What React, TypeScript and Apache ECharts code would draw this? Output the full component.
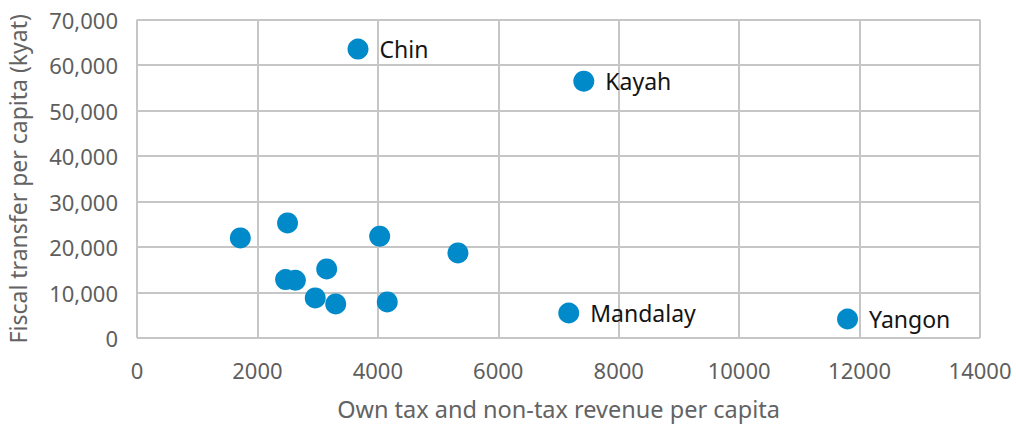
import React, { useEffect, useRef } from "react";
import * as echarts from "echarts";

const regionNames = ["Chin", "Kayah", "Mandalay", "Yangon", "", "", "", "", "", "", "", "", "", ""];
const ownRevenue = [3670, 7420, 7170, 11800, 1716, 2500, 4030, 5330, 3150, 2468, 2630, 2960, 3300, 4156];
const fiscalTransfer = [63500, 56450, 5500, 4180, 22000, 25300, 22370, 18700, 15180, 12850, 12690, 8800, 7480, 7920];
const xTicks = { min: 0, max: 14000, interval: 2000 };
const yTicks = { min: 0, max: 70000, interval: 10000 };

export default function App() {
  const ref = useRef<HTMLDivElement>(null);
  useEffect(() => {
    const chart = echarts.init(ref.current!, null, { renderer: "svg" });
    const font = "'Noto Sans', sans-serif";
    chart.setOption({
      animation: false,
      textStyle: { fontFamily: font },
      grid: { left: 137, right: 36, top: 19.5, bottom: 90, containLabel: false, outerBoundsMode: "none" },
      xAxis: {
        type: "value",
        min: xTicks.min,
        max: xTicks.max,
        interval: xTicks.interval,
        name: "Own tax and non-tax revenue per capita",
        nameLocation: "middle",
        nameGap: 59,
        nameTextStyle: { fontSize: 23.5, color: "#636363", fontFamily: font },
        axisLine: { show: false },
        axisTick: { show: false },
        axisLabel: { fontSize: 22, color: "#5e5e5e", margin: 21, fontFamily: font, formatter: (v: number) => String(v) },
        splitLine: { show: true, lineStyle: { color: "#c6c6c6", width: 2 } },
      },
      yAxis: {
        type: "value",
        min: yTicks.min,
        max: yTicks.max,
        interval: yTicks.interval,
        name: "Fiscal transfer per capita (kyat)",
        nameLocation: "middle",
        nameGap: 108,
        nameTextStyle: { fontSize: 23, color: "#636363", fontFamily: font },
        axisLine: { show: false },
        axisTick: { show: false },
        axisLabel: {
          fontSize: 22,
          color: "#5e5e5e",
          margin: 19,
          fontFamily: font,
          formatter: (v: number) => v.toLocaleString("en-US"),
        },
        splitLine: { show: true, lineStyle: { color: "#c6c6c6", width: 2 } },
      },
      series: [
        {
          type: "scatter",
          symbolSize: 21,
          itemStyle: { color: "#008ACA", opacity: 1 },
          data: ownRevenue.map((x, i) => ({
            value: [x, fiscalTransfer[i]],
            name: regionNames[i],
            label: {
              show: regionNames[i] !== "",
              position: "right",
              distance: 11,
              formatter: "{b}",
              fontSize: 23,
              color: "#141414",
              fontFamily: font,
            },
          })),
        },
      ],
    });
    return () => chart.dispose();
  }, []);
  return (
    <div
      ref={ref}
      style={{ position: "absolute", left: 0, top: 0, width: 1016, height: 428, background: "#fff" }}
    />
  );
}
